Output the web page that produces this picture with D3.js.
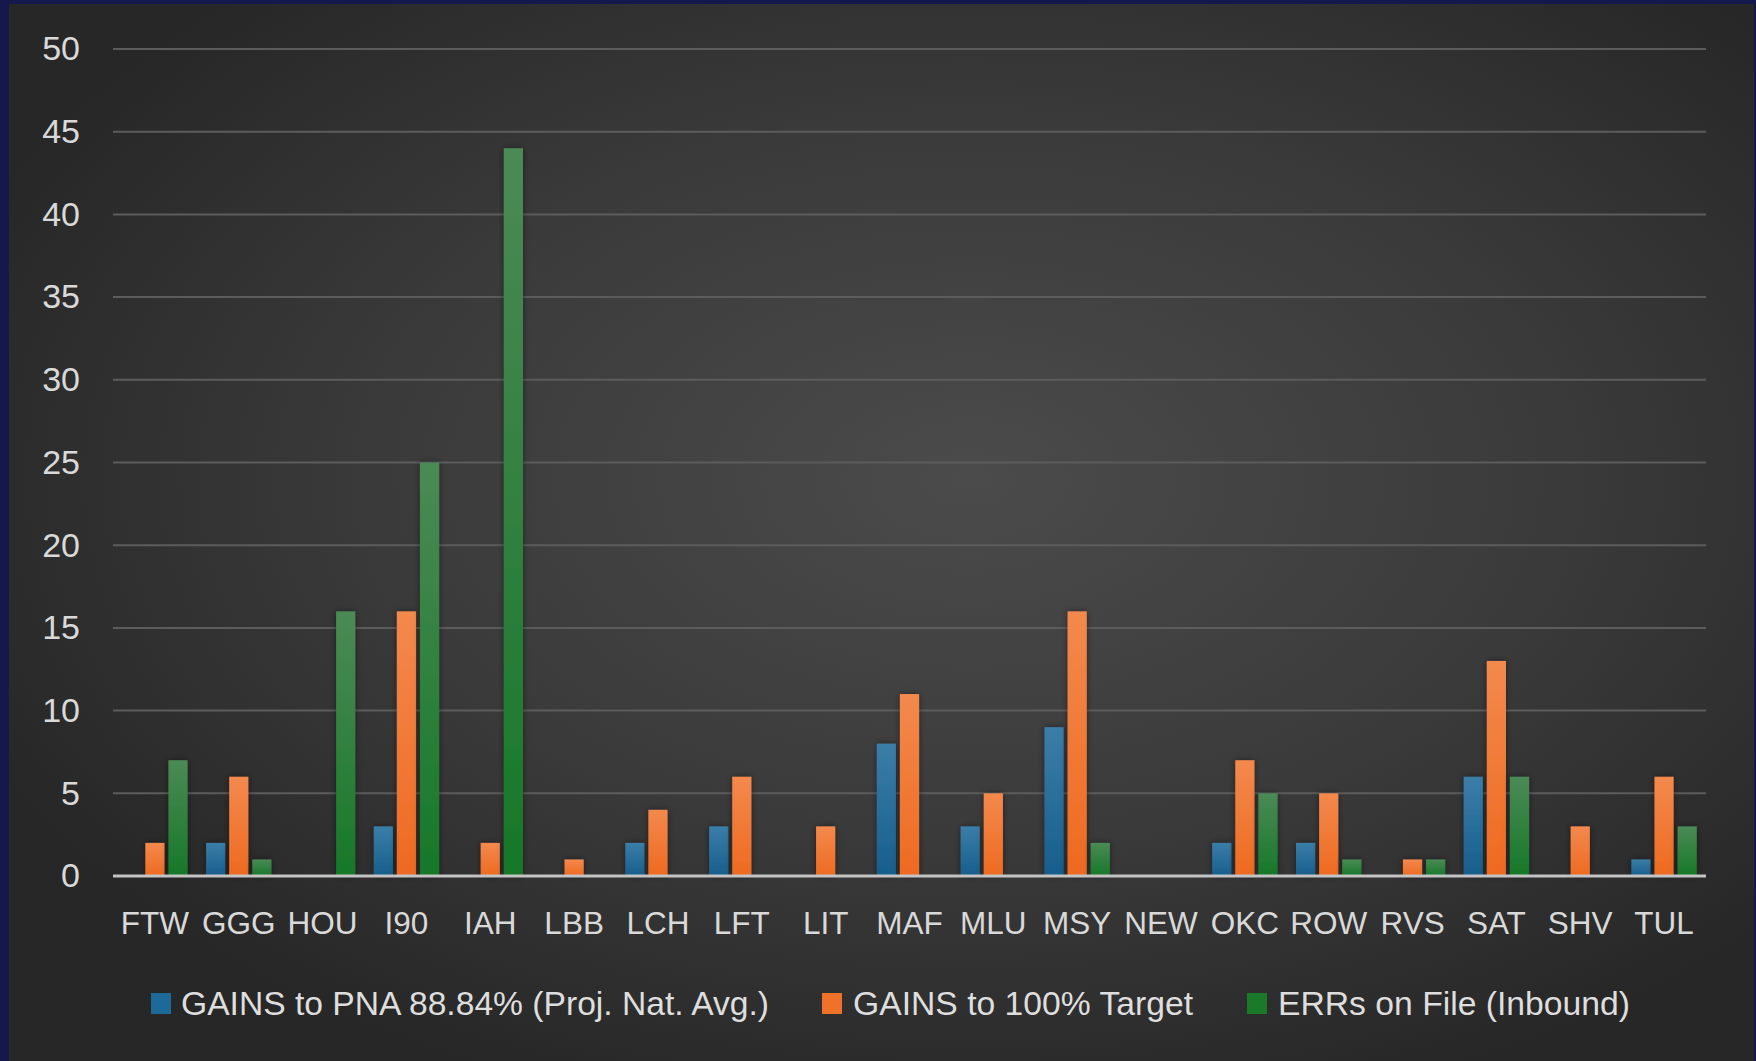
<!DOCTYPE html>
<html>
<head>
<meta charset="utf-8">
<script src="https://cdn.jsdelivr.net/npm/d3@7"></script>
<style>
  html, body { margin: 0; padding: 0; background: #15184d; }
  svg { display: block; }
</style>
</head>
<body>
<svg id="chart" width="1756" height="1061"></svg>
<script>
// Station codes along the x axis
const categories = ["FTW","GGG","HOU","I90","IAH","LBB","LCH","LFT","LIT","MAF","MLU","MSY","NEW","OKC","ROW","RVS","SAT","SHV","TUL"];

// Series values, one per station
const gainsPNA    = [0,2,0,3,0,0,2,3,0,8,3,9,0,2,2,0,6,0,1];
const gains100    = [2,6,0,16,2,1,4,6,3,11,5,16,0,7,5,1,13,3,6];
const errsOnFile  = [7,1,16,25,44,0,0,0,0,0,0,2,0,5,1,1,6,0,3];

const seriesNames = ["GAINS to PNA 88.84% (Proj. Nat. Avg.)", "GAINS to 100% Target", "ERRs on File (Inbound)"];
const yTicks = [0,5,10,15,20,25,30,35,40,45,50];

const series = [
  { key: "pna",  name: seriesNames[0], values: gainsPNA,   top: "#3a7ea8", bottom: "#175e8c", swatch: "#1d6a98" },
  { key: "tgt",  name: seriesNames[1], values: gains100,   top: "#f3894d", bottom: "#ee6a20", swatch: "#f07128" },
  { key: "errs", name: seriesNames[2], values: errsOnFile, top: "#4b8a55", bottom: "#167828", swatch: "#1a7a2a" }
];

const W = 1756, H = 1061;
const svg = d3.select("#chart");
const defs = svg.append("defs");

// Dark slide background with a soft central glow
const bg = defs.append("radialGradient").attr("id", "bgGrad")
  .attr("cx", "55%").attr("cy", "45%").attr("r", "62%");
bg.append("stop").attr("offset", "0%").attr("stop-color", "#4b4b4b");
bg.append("stop").attr("offset", "55%").attr("stop-color", "#3a3a3a");
bg.append("stop").attr("offset", "100%").attr("stop-color", "#272727");

series.forEach(s => {
  const g = defs.append("linearGradient").attr("id", "grad-" + s.key)
    .attr("x1", 0).attr("y1", 0).attr("x2", 0).attr("y2", 1);
  g.append("stop").attr("offset", "0%").attr("stop-color", s.top);
  g.append("stop").attr("offset", "100%").attr("stop-color", s.bottom);
});

const shadow = defs.append("filter").attr("id", "barShadow")
  .attr("x", "-40%").attr("y", "-5%").attr("width", "180%").attr("height", "110%");
shadow.append("feDropShadow").attr("dx", 0).attr("dy", 0).attr("stdDeviation", 3)
  .attr("flood-color", "#000").attr("flood-opacity", 0.45);

// Navy frame (left, top and right edges) and chart area
svg.append("rect").attr("x", 0).attr("y", 0).attr("width", W).attr("height", H).attr("fill", "#15184d");
svg.append("rect").attr("x", 9).attr("y", 4).attr("width", W - 11).attr("height", H - 4).attr("fill", "url(#bgGrad)");

const plot = { left: 113, right: 1706, top: 49, bottom: 876 };

const x = d3.scaleBand().domain(categories)
  .range([plot.left, plot.right]).paddingInner(0.22).paddingOuter(0.11);
const xs = d3.scaleBand().domain(series.map(s => s.key))
  .range([0, x.bandwidth()]).paddingInner(0.17).paddingOuter(0);
const y = d3.scaleLinear().domain([0, 50]).range([plot.bottom, plot.top]);

// Horizontal gridlines
svg.append("g").selectAll("line").data(yTicks.filter(t => t > 0)).join("line")
  .attr("x1", plot.left).attr("x2", plot.right)
  .attr("y1", d => y(d)).attr("y2", d => y(d))
  .attr("stroke", "#5c5c5c").attr("stroke-width", 2);

// Y axis labels
const yAxis = d3.axisLeft(y).tickValues(yTicks).tickSize(0).tickPadding(0);
const yG = svg.append("g").attr("transform", "translate(80,0)").call(yAxis);
yG.select(".domain").remove();
yG.selectAll("text")
  .attr("fill", "#d9d9d9")
  .style("font-family", "'Liberation Sans', Arial, sans-serif")
  .style("font-size", "34px");

// Bars
const groups = svg.append("g").selectAll("g").data(series).join("g")
  .attr("fill", s => "url(#grad-" + s.key + ")")
  .attr("filter", "url(#barShadow)");
groups.selectAll("rect")
  .data(s => s.values.map((v, i) => ({ key: s.key, cat: categories[i], v })).filter(d => d.v > 0))
  .join("rect")
  .attr("x", d => x(d.cat) + xs(d.key))
  .attr("width", xs.bandwidth())
  .attr("y", d => y(d.v))
  .attr("height", d => y(0) - y(d.v));

// Baseline
svg.append("line").attr("x1", plot.left).attr("x2", plot.right)
  .attr("y1", y(0)).attr("y2", y(0))
  .attr("stroke", "#c4c4c4").attr("stroke-width", 3);

// X axis labels
const xAxis = d3.axisBottom(x).tickSize(0).tickPadding(0);
const xG = svg.append("g").attr("transform", "translate(0,923)").call(xAxis);
xG.select(".domain").remove();
xG.selectAll("text")
  .attr("dy", "0.35em")
  .attr("fill", "#d9d9d9")
  .style("font-family", "'Liberation Sans', Arial, sans-serif")
  .style("font-size", "31.5px");

// Legend
const legendItems = [
  { s: series[0], mx: 151, tx: 181, tw: 588 },
  { s: series[1], mx: 822, tx: 853, tw: 340 },
  { s: series[2], mx: 1247, tx: 1278, tw: 352 }
];
const leg = svg.append("g");
leg.selectAll("rect").data(legendItems).join("rect")
  .attr("x", d => d.mx).attr("y", 993).attr("width", 20).attr("height", 21)
  .attr("fill", d => d.s.swatch);
leg.selectAll("text").data(legendItems).join("text")
  .attr("x", d => d.tx).attr("y", 1003).attr("dy", "0.35em")
  .attr("textLength", d => d.tw).attr("lengthAdjust", "spacingAndGlyphs")
  .attr("fill", "#dedede")
  .style("font-family", "'Liberation Sans Narrow', 'Liberation Sans', Arial, sans-serif")
  .style("font-size", "34px")
  .text(d => d.s.name);
</script>
</body>
</html>
